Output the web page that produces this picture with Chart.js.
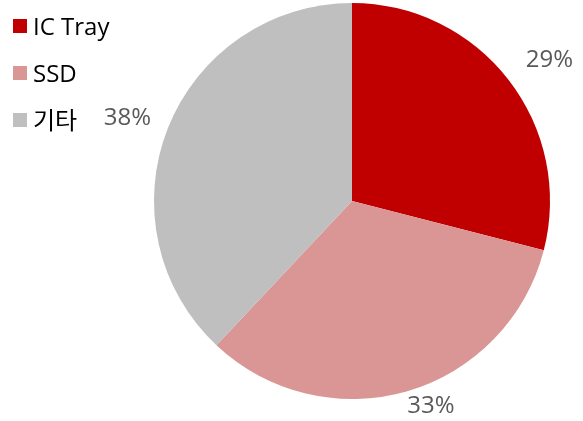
<!DOCTYPE html>
<html>
<head>
<meta charset="utf-8">
<script src="https://cdn.jsdelivr.net/npm/chart.js@4"></script>
<style>
  html, body { margin: 0; padding: 0; background: #fff; }
  #wrap { position: relative; width: 583px; height: 421px; }
</style>
</head>
<body>
<div id="wrap"><canvas id="chart" width="583" height="421"></canvas></div>
<script>
  /* ---- Data ---- */
  const categories = ["IC Tray", "SSD", "기타"];
  const shares     = [29, 33, 38];
  const colors     = ["#C00000", "#D99694", "#BFBFBF"];

  const FONT = '"Open Sans", "Noto Sans CJK KR", sans-serif';

  /* ---- Legend (top-left, square markers) ---- */
  const legendPlugin = {
    id: "cornerLegend",
    afterDraw(chart) {
      const ctx = chart.ctx;
      ctx.save();
      ctx.font = "24px " + FONT;
      ctx.textBaseline = "alphabetic";
      ctx.textAlign = "left";
      categories.forEach((name, i) => {
        const y = 26 + i * 47;
        ctx.fillStyle = colors[i];
        ctx.fillRect(13, y - 7, 14, 14);
        ctx.fillStyle = "#000";
        ctx.fillText(name, 33, y + 9);
      });
      ctx.restore();
    }
  };

  /* ---- Outside percent labels ---- */
  const pctPlugin = {
    id: "pctLabels",
    afterDraw(chart, args, opts) {
      const ctx = chart.ctx;
      const meta = chart.getDatasetMeta(0);
      ctx.save();
      ctx.font = "24px " + FONT;
      ctx.fillStyle = "#595959";
      ctx.textAlign = "center";
      ctx.textBaseline = "alphabetic";
      meta.data.forEach((arc, i) => {
        const mid = (arc.startAngle + arc.endAngle) / 2 + opts.nudge[i] * Math.PI / 180;
        const dx = Math.cos(mid), dy = Math.sin(mid);
        const txt = shares[i] + "%";
        const hw = 24, hh = 10;
        const r = arc.outerRadius + opts.gaps[i] + Math.abs(dx) * hw + Math.abs(dy) * hh;
        ctx.fillText(txt, arc.x + dx * r, arc.y + dy * r + 8.5);
      });
      ctx.restore();
    }
  };

  new Chart(document.getElementById("chart"), {
    type: "pie",
    data: {
      labels: categories,
      datasets: [{
        data: shares,
        backgroundColor: colors,
        borderWidth: 0
      }]
    },
    options: {
      responsive: false,
      animation: false,
      layout: { padding: { left: 154, right: 33, top: 3, bottom: 22 } },
      plugins: {
        legend: { display: false },
        tooltip: { enabled: false },
        pctLabels: { gaps: [20, 2, 16], nudge: [2, -5, -1] }
      }
    },
    plugins: [legendPlugin, pctPlugin]
  });
</script>
</body>
</html>
